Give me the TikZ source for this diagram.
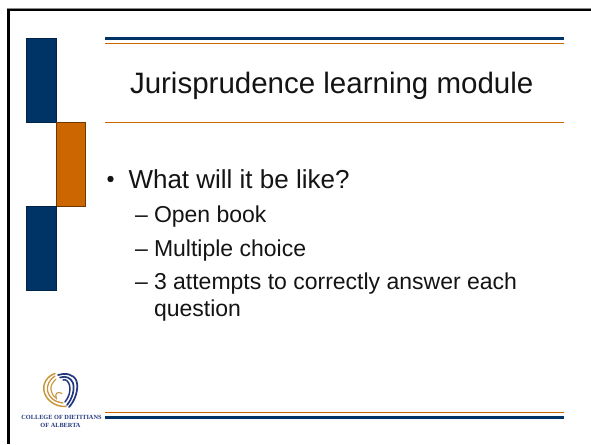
\documentclass[tikz,border=0pt]{standalone}
\usepackage{fontspec}
\setmainfont{Liberation Sans}
\newfontfamily\logofont{Liberation Serif}
\definecolor{navy}{HTML}{003366}
\definecolor{burnt}{HTML}{CC6600}
\definecolor{gold}{HTML}{C8963C}
\definecolor{logoblue}{HTML}{24387F}
\tikzset{
 txt/.style={anchor=base west,inner sep=0pt,outer sep=0pt,text=black!92},
 subtxt/.style={txt,font=\fontsize{23pt}{26pt}\selectfont},
 logotxt/.style={anchor=center,inner sep=0pt,text=logoblue,font=\logofont\bfseries\fontsize{6.3pt}{7.5pt}\selectfont},
}
\begin{document}
\begin{tikzpicture}[x=1pt,y=-1pt]
\useasboundingbox (0,0) rectangle (591,444);
\fill[white] (0,0) rectangle (591,444);
% frame
\fill[black!45] (6.5,8) rectangle (591,9);
\fill[black!45] (6.5,8) rectangle (7,444);
\fill[black] (7,9) rectangle (591,11);
\fill[black] (7,9) rectangle (9.5,444);
% side blocks
\fill[black!35] (56,39) rectangle (57,122);
\fill[black!35] (26,122) rectangle (56,123);
\fill[black!35] (56,206) rectangle (56.6,290.5);
\fill[black!35] (26,290) rectangle (56.6,291);
\fill[navy,draw=navy!70!black,line width=.5pt] (26.3,38.3) rectangle (55.8,122);
\fill[burnt,draw=burnt!55!black,line width=.5pt] (56,122.3) rectangle (85.7,205.8);
\fill[navy,draw=navy!70!black,line width=.5pt] (26.3,206.3) rectangle (55.8,290);
% rules
\fill[navy] (105,37) rectangle (564,40);
\fill[burnt] (105,42.8) rectangle (564,44.2);
\fill[burnt] (105,121.8) rectangle (564,123.2);
\fill[burnt] (105,411.8) rectangle (564,413.2);
\fill[navy] (105,416) rectangle (564,419);
% title
\node[txt,font=\fontsize{29.5pt}{33pt}\selectfont] (title) at (130,93.5) {Jurisprudence learning module};
% body
\fill[black!92] (110.5,179) circle (3.2);
\node[txt,font=\fontsize{26pt}{30pt}\selectfont] (q) at (128.5,188) {What will it be like?};
\node[subtxt] (ad) at (135,222) {–};
\node[subtxt] (a) at (154,222) {Open book};
\node[subtxt] (bd) at (135,256) {–};
\node[subtxt] (b) at (154,256) {Multiple choice};
\node[subtxt] (cd) at (135,289) {–};
\node[subtxt] (c) at (154,289) {3 attempts to correctly answer each};
\node[subtxt] (d) at (154,316) {question};
% logo
\begin{scope}[line cap=round]
\draw[gold,line width=1.5pt] (55,373.5) .. controls (47,376) and (42.5,384) .. (44,391) .. controls (45.5,399) and (54,407) .. (66,406.5);
\draw[gold,line width=1.3pt] (55,376) .. controls (50,379) and (46.5,385) .. (47.5,391) .. controls (49,397) and (54,402) .. (63,403);
\draw[gold,line width=1.1pt] (56,379) .. controls (53,382) and (50,386) .. (51,390) .. controls (51.5,393) and (53,396) .. (56,398);
\draw[gold,line width=1.1pt] (62,393.5) .. controls (58,391) and (54,393) .. (56.5,399);
\draw[logoblue,line width=1.7pt] (58,375) .. controls (65,372.5) and (74,374) .. (76.5,381) .. controls (79,389) and (75,401) .. (69,407);
\draw[logoblue,line width=1.7pt] (60,377.5) .. controls (66,375.5) and (71,378) .. (73,383) .. controls (75,390) and (72,399) .. (67,405);
\draw[logoblue,line width=1.5pt] (63,380) .. controls (66,379) and (68,381) .. (69.5,385) .. controls (71,391) and (69,397) .. (65,402);
\end{scope}
\node[logotxt] (logo1) at (61.5,417) {COLLEGE OF DIETITIANS};
\node[logotxt] (logo2) at (60.5,425) {OF ALBERTA};
\end{tikzpicture}
\end{document}
